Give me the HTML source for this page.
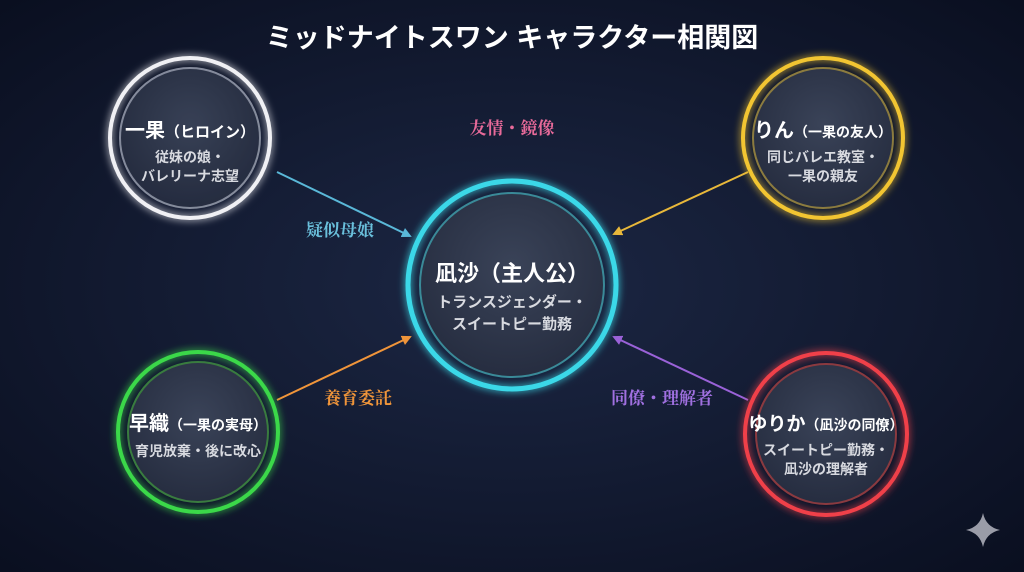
<!DOCTYPE html>
<html><head><meta charset="utf-8"><style>
html,body{margin:0;padding:0;background:#0d1428;}
svg{display:block}
text{font-family:"Liberation Sans","Noto Sans CJK JP",sans-serif;}
.lbl{font-family:"Noto Serif CJK SC","Liberation Serif",serif;font-size:17px;font-weight:bold}
</style></head><body>
<svg width="1024" height="572" viewBox="0 0 1024 572" xmlns="http://www.w3.org/2000/svg">
<defs>
<radialGradient id="bg" cx="50%" cy="50%" r="70%">
<stop offset="0" stop-color="#1c2744"/><stop offset="1" stop-color="#0a0f20"/>
</radialGradient>
<radialGradient id="fill" cx="50%" cy="40%" r="60%">
<stop offset="0" stop-color="#3a4358"/><stop offset="1" stop-color="#262d40"/>
</radialGradient>
<filter id="glow" x="-30%" y="-30%" width="160%" height="160%"><feGaussianBlur stdDeviation="4" result="b"/><feMerge><feMergeNode in="b"/><feMergeNode in="SourceGraphic"/></feMerge></filter>
<marker id="ab" markerWidth="10" markerHeight="10" refX="8" refY="5" orient="auto" markerUnits="userSpaceOnUse"><path d="M0,0 L10,5 L0,10 z" fill="#5ab8d8"/></marker>
<marker id="ay" markerWidth="10" markerHeight="10" refX="8" refY="5" orient="auto" markerUnits="userSpaceOnUse"><path d="M0,0 L10,5 L0,10 z" fill="#e8b83a"/></marker>
<marker id="ao" markerWidth="10" markerHeight="10" refX="8" refY="5" orient="auto" markerUnits="userSpaceOnUse"><path d="M0,0 L10,5 L0,10 z" fill="#f0953a"/></marker>
<marker id="ap" markerWidth="10" markerHeight="10" refX="8" refY="5" orient="auto" markerUnits="userSpaceOnUse"><path d="M0,0 L10,5 L0,10 z" fill="#9a62d8"/></marker>
</defs>
<rect width="1024" height="572" fill="url(#bg)"/>
<text x="512" y="47" text-anchor="middle" fill="#fff" font-size="27" font-weight="bold">ミッドナイトスワン キャラクター相関図</text>

<line x1="277" y1="172" x2="410" y2="236" stroke="#5ab8d8" stroke-width="2" marker-end="url(#ab)"/>
<line x1="748" y1="172" x2="614" y2="234" stroke="#e8b83a" stroke-width="2" marker-end="url(#ay)"/>
<line x1="277" y1="400" x2="410" y2="337" stroke="#f0953a" stroke-width="2" marker-end="url(#ao)"/>
<line x1="748" y1="400" x2="614" y2="337" stroke="#9a62d8" stroke-width="2" marker-end="url(#ap)"/>

<!-- nodes -->
<g>
<circle cx="190" cy="138" r="70" fill="url(#fill)" stroke="#8a90a0" stroke-width="2" opacity="0.95"/>
<circle cx="190" cy="138" r="80" fill="none" stroke="#f0f0f4" stroke-width="4" filter="url(#glow)"/>
<text x="190" y="137" text-anchor="middle" fill="#fff" font-size="20" font-weight="bold">一果<tspan font-size="15">（ヒロイン）</tspan></text>
<text x="190" y="162" text-anchor="middle" fill="#d8dae0" font-size="14" font-weight="bold">従妹の娘・</text>
<text x="190" y="181" text-anchor="middle" fill="#d8dae0" font-size="14" font-weight="bold">バレリーナ志望</text>
</g>
<g>
<circle cx="823" cy="138" r="70" fill="url(#fill)" stroke="#8a7a40" stroke-width="2"/>
<circle cx="823" cy="138" r="80" fill="none" stroke="#f2c530" stroke-width="4" filter="url(#glow)"/>
<text x="823" y="137" text-anchor="middle" fill="#fff" font-size="20" font-weight="bold">りん<tspan font-size="14">（一果の友人）</tspan></text>
<text x="823" y="162" text-anchor="middle" fill="#d8dae0" font-size="14" font-weight="bold">同じバレエ教室・</text>
<text x="823" y="181" text-anchor="middle" fill="#d8dae0" font-size="14" font-weight="bold">一果の親友</text>
</g>
<g>
<circle cx="512" cy="285" r="92" fill="url(#fill)" stroke="#3a8a98" stroke-width="2"/>
<circle cx="512" cy="285" r="104" fill="none" stroke="#3ad8e8" stroke-width="5" filter="url(#glow)"/>
<text x="512" y="281" text-anchor="middle" fill="#fff" font-size="22" font-weight="bold">凪沙（主人公）</text>
<text x="512" y="307" text-anchor="middle" fill="#d8dae0" font-size="15" font-weight="bold">トランスジェンダー・</text>
<text x="512" y="329" text-anchor="middle" fill="#d8dae0" font-size="15" font-weight="bold">スイートピー勤務</text>
</g>
<g>
<circle cx="198" cy="432" r="70" fill="url(#fill)" stroke="#3a7a40" stroke-width="2"/>
<circle cx="198" cy="432" r="80" fill="none" stroke="#3ad84a" stroke-width="4" filter="url(#glow)"/>
<text x="198" y="430" text-anchor="middle" fill="#fff" font-size="20" font-weight="bold">早織<tspan font-size="14">（一果の実母）</tspan></text>
<text x="198" y="456" text-anchor="middle" fill="#d8dae0" font-size="14" font-weight="bold">育児放棄・後に改心</text>
</g>
<g>
<circle cx="826" cy="434" r="70" fill="url(#fill)" stroke="#8a3a40" stroke-width="2"/>
<circle cx="826" cy="434" r="81" fill="none" stroke="#f0404a" stroke-width="4" filter="url(#glow)"/>
<text x="826" y="430" text-anchor="middle" fill="#fff" font-size="19" font-weight="bold">ゆりか<tspan font-size="14">（凪沙の同僚）</tspan></text>
<text x="826" y="455" text-anchor="middle" fill="#d8dae0" font-size="14" font-weight="bold">スイートピー勤務・</text>
<text x="826" y="474" text-anchor="middle" fill="#d8dae0" font-size="14" font-weight="bold">凪沙の理解者</text>
</g>

<text class="lbl" x="512" y="134" text-anchor="middle" fill="#e86a9a">友情・鏡像</text>
<text class="lbl" x="340" y="236" text-anchor="middle" fill="#6ac0dc">疑似母娘</text>
<text class="lbl" x="358" y="404" text-anchor="middle" fill="#f0953a">養育委託</text>
<text class="lbl" x="662" y="404" text-anchor="middle" fill="#a070e0">同僚・理解者</text>

<path d="M983,513 Q986,527 1000,530 Q986,533 983,547 Q980,533 966,530 Q980,527 983,513z" fill="#9a9ca8"/>
</svg>
</body></html>
